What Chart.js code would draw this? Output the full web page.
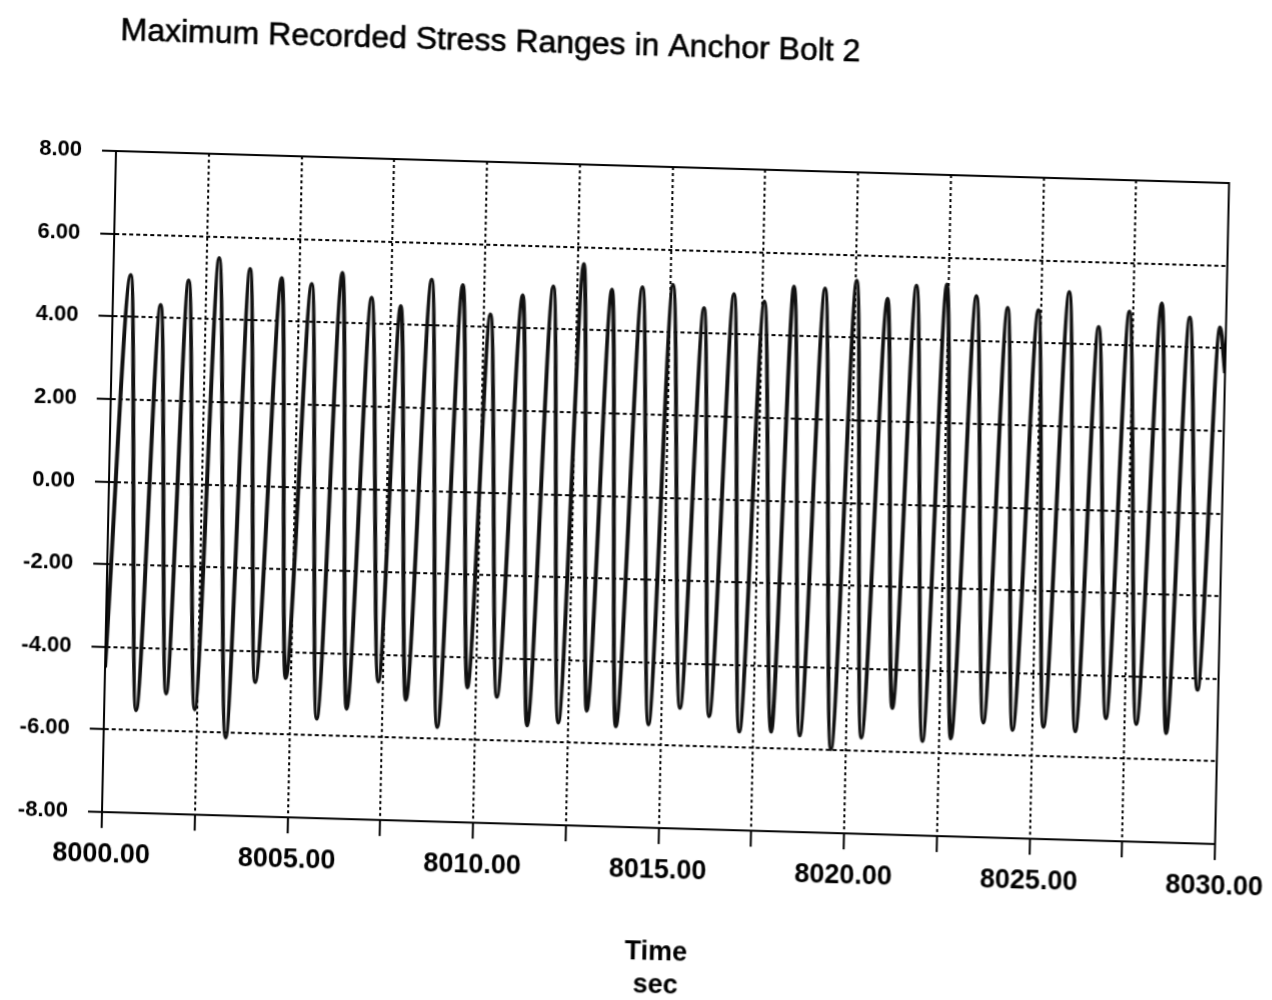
<!DOCTYPE html>
<html>
<head>
<meta charset="utf-8">
<title>Maximum Recorded Stress Ranges in Anchor Bolt 2</title>
<script src="https://cdn.jsdelivr.net/npm/chart.js@4.4.0/dist/chart.umd.min.js"></script>
<style>
  html, body { margin: 0; padding: 0; background: #ffffff; overflow: hidden; width: 1272px; height: 1000px; }
  #sheet {
    position: absolute; left: 0; top: 0; width: 1300px; height: 1000px;
    transform-origin: 116px 151px;
    transform: matrix(1, 0.0288, -0.0212, 1, 0, 0);
  }
  canvas { display: block; }
</style>
</head>
<body>
<div id="sheet"><canvas id="stress" width="1300" height="1000"></canvas></div>
<script>
// Chart text
const chartTitle = 'Maximum Recorded Stress Ranges in Anchor Bolt 2';
const xAxisTitle = ['Time', 'sec'];

// Axis ticks
const xTickValues = [8000, 8002.5, 8005, 8007.5, 8010, 8012.5, 8015, 8017.5, 8020, 8022.5, 8025, 8027.5, 8030];
const xLabelValues = [8000, 8005, 8010, 8015, 8020, 8025, 8030];
const yTickValues = [-8, -6, -4, -2, 0, 2, 4, 6, 8];

// Stress record: turning points of the trace (time in s, stress)
const peakTimes = [8000.47, 8001.29, 8002.03, 8002.84, 8003.68, 8004.54, 8005.35, 8006.17, 8006.97, 8007.76,
                   8008.58, 8009.42, 8010.18, 8011.04, 8011.86, 8012.67, 8013.44, 8014.26, 8015.08, 8015.93,
                   8016.73, 8017.55, 8018.34, 8019.18, 8020.03, 8020.87, 8021.64, 8022.46, 8023.26, 8024.11,
                   8024.94, 8025.76, 8026.57, 8027.39, 8028.26, 8029.02, 8029.84];
const peakValues = [5.01, 4.31, 4.92, 5.48, 5.24, 5.04, 4.92, 5.21, 4.63, 4.45,
                    5.11, 5.00, 4.31, 4.79, 5.03, 5.59, 4.99, 5.07, 5.15, 4.61,
                    4.97, 4.81, 5.19, 5.17, 5.38, 4.96, 5.30, 5.35, 5.09, 4.83,
                    4.79, 5.25, 4.43, 4.82, 5.04, 4.72, 4.50];
const troughTimes = [8000.86, 8001.66, 8002.44, 8003.29, 8004.05, 8004.87, 8005.73, 8006.53, 8007.37, 8008.12,
                     8008.98, 8009.77, 8010.57, 8011.40, 8012.24, 8013.00, 8013.79, 8014.67, 8015.51, 8016.30,
                     8017.12, 8017.98, 8018.75, 8019.60, 8020.41, 8021.23, 8022.06, 8022.82, 8023.69, 8024.48,
                     8025.31, 8026.17, 8026.99, 8027.81, 8028.62, 8029.44];
const troughValues = [-5.51, -5.09, -5.45, -6.11, -4.75, -4.63, -5.59, -5.33, -4.65, -5.07,
                      -5.71, -4.73, -4.94, -5.61, -5.52, -5.21, -5.57, -5.50, -5.08, -5.26,
                      -5.61, -5.59, -5.66, -5.97, -5.67, -4.93, -5.71, -5.63, -5.22, -5.38,
                      -5.28, -5.37, -5.03, -5.15, -5.35, -4.28];
// Values at the two ends of the record window
const endTimes = [8000.00, 8030.00];
const endValues = [-4.50, 3.40];

// Merge everything into one time-ordered trace
const trace = [];
endTimes.forEach((t, i) => trace.push({ x: t, y: endValues[i] }));
peakTimes.forEach((t, i) => trace.push({ x: t, y: peakValues[i] }));
troughTimes.forEach((t, i) => trace.push({ x: t, y: troughValues[i] }));
trace.sort((a, b) => a.x - b.x);

const FONT = '"Liberation Sans", Arial, Helvetica, sans-serif';
const INK = '#000000';

// Title and solid plot frame
const decorations = {
  id: 'decorations',
  afterDraw(chart) {
    const { ctx, chartArea: a } = chart;
    ctx.save();
    ctx.strokeStyle = INK;
    ctx.lineWidth = 2;
    ctx.setLineDash([]);
    ctx.strokeRect(a.left, a.top, a.right - a.left, a.bottom - a.top);
    ctx.fillStyle = INK;
    ctx.font = '32px ' + FONT;
    ctx.textAlign = 'left';
    ctx.textBaseline = 'alphabetic';
    ctx.fillText(chartTitle, 118, 40);
    ctx.lineWidth = 0.6;
    ctx.strokeText(chartTitle, 118, 40);
    ctx.restore();
  }
};

const isEdge = (v, lo, hi) => Math.abs(v - lo) < 1e-9 || Math.abs(v - hi) < 1e-9;

new Chart(document.getElementById('stress'), {
  type: 'line',
  data: {
    datasets: [{
      data: trace,
      borderColor: '#111111',
      borderWidth: 4,
      pointRadius: 0,
      fill: false,
      cubicInterpolationMode: 'monotone'
    }]
  },
  options: {
    responsive: false,
    animation: false,
    events: [],
    layout: { padding: { top: 151, left: 0, right: 71, bottom: 0 } },
    plugins: { legend: { display: false }, tooltip: { enabled: false }, title: { display: false } },
    scales: {
      x: {
        type: 'linear',
        min: 8000,
        max: 8030,
        afterBuildTicks(axis) { axis.ticks = xTickValues.map(v => ({ value: v })); },
        afterFit(axis) { axis.height = 188; },
        ticks: {
          autoSkip: false,
          maxRotation: 0,
          minRotation: 0,
          padding: 10,
          color: INK,
          font: { family: FONT, size: 27, weight: 'bold' },
          callback: (v) => xLabelValues.some(l => Math.abs(l - v) < 1e-9) ? Number(v).toFixed(2) : ''
        },
        grid: {
          color: (c) => (c.tick && isEdge(c.tick.value, 8000, 8030)) ? 'rgba(0,0,0,0)' : INK,
          lineWidth: 2,
          tickLength: 16,
          tickColor: INK,
          tickWidth: 2,
          tickBorderDash: []
        },
        border: { display: true, color: INK, width: 2, dash: [3, 3] },
        title: {
          display: true,
          text: xAxisTitle,
          color: INK,
          font: { family: FONT, size: 27, weight: 'bold', lineHeight: 1.222 },
          padding: { top: 0, bottom: 14 }
        }
      },
      y: {
        type: 'linear',
        min: -8,
        max: 8,
        afterBuildTicks(axis) { axis.ticks = yTickValues.map(v => ({ value: v })); },
        afterFit(axis) { axis.width = 116; },
        ticks: {
          padding: 20,
          color: INK,
          font: { family: FONT, size: 22, weight: 'bold' },
          callback: (v) => Number(v).toFixed(2)
        },
        grid: {
          color: (c) => (c.tick && isEdge(c.tick.value, -8, 8)) ? 'rgba(0,0,0,0)' : INK,
          lineWidth: 2,
          tickLength: 14,
          tickColor: INK,
          tickWidth: 2,
          tickBorderDash: []
        },
        border: { display: true, color: INK, width: 2, dash: [4, 3] }
      }
    }
  },
  plugins: [decorations]
});
</script>
</body>
</html>
